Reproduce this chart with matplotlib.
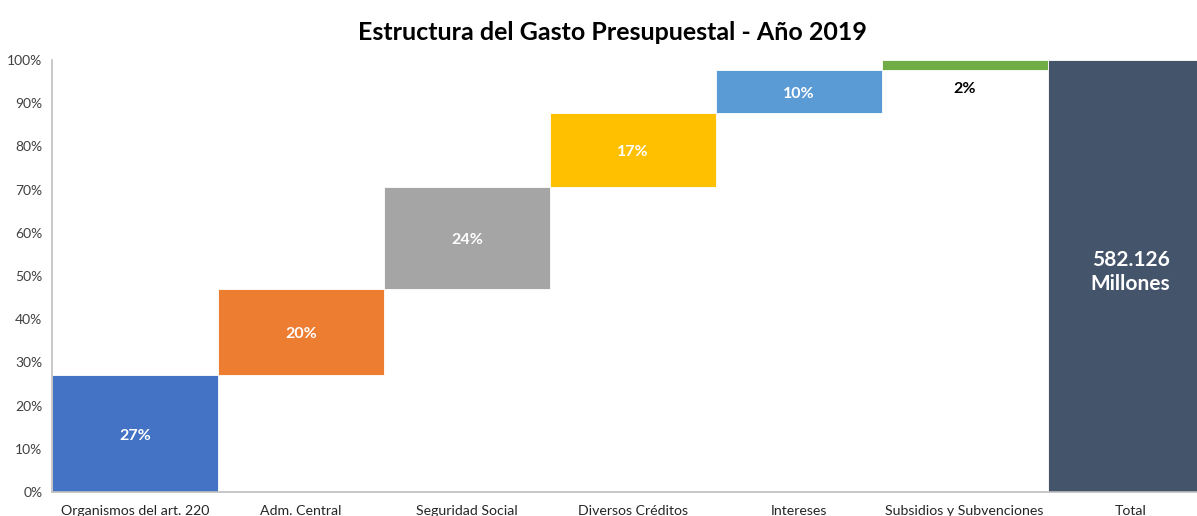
import matplotlib.pyplot as plt
import numpy as np

plt.rcParams['font.family'] = ['Lato', 'DejaVu Sans']

# datos (porcentaje del gasto)
categorias = ['Organismos del art. 220', 'Adm. Central', 'Seguridad Social',
              'Diversos Créditos', 'Intereses', 'Subsidios y Subvenciones', 'Total']
valores = [27.1, 19.9, 23.6, 17.1, 10.0, 2.3]
etiquetas = ['27%', '20%', '24%', '17%', '10%', '2%']
total = 100
etiqueta_total = '582.126\nMillones'
colores = ['#4472C4', '#ED7D31', '#A5A5A5', '#FFC000', '#5B9BD5', '#70AD47']
color_total = '#44546A'

fig = plt.figure(figsize=(11.97, 5.16), dpi=100)
ax = fig.add_axes([52 / 1197, 24 / 516, 1 - 52 / 1197, 432 / 516])

x = np.arange(len(categorias))
bases = np.concatenate([[0], np.cumsum(valores)[:-1]])

barras = ax.bar(x[:-1], valores, bottom=bases, width=1.0, color=colores,
                edgecolor='white', linewidth=0.6)
ax.bar(x[-1], total, width=1.0, color=color_total, edgecolor='white', linewidth=0.6)

# etiquetas dentro de las barras
for i in range(len(valores)):
    if valores[i] < 5:
        # la barra chica lleva la etiqueta abajo, en negro
        ax.annotate(etiquetas[i], (x[i], bases[i]), xytext=(0, -13.5),
                    textcoords='offset points', ha='center', va='center',
                    fontsize=11.5, fontweight='bold', color='black')
    else:
        ax.text(x[i], bases[i] + valores[i] / 2 - 0.5, etiquetas[i], ha='center',
                va='center', fontsize=11.5, fontweight='bold', color='white')

ax.text(x[-1], total * 0.51, etiqueta_total, ha='center', va='center',
        fontsize=15, fontweight='bold', color='white', linespacing=1.25)

ax.set_xlim(-0.5, 6.4)
ax.set_ylim(0, 100)
ax.set_xticks(x)
ax.set_xticklabels(categorias, fontsize=10.2, color='#262626')
ax.set_yticks(np.arange(0, 101, 10))
ax.set_yticklabels([str(v) + '%' for v in range(0, 101, 10)], fontsize=10, color='#404040')
ax.tick_params(axis='x', length=0, pad=9.5)
ax.tick_params(axis='y', length=0, pad=7)

for lado in ['top', 'right']:
    ax.spines[lado].set_visible(False)
ax.spines['left'].set_color('#BFBFBF')
ax.spines['bottom'].set_color('#BFBFBF')
ax.spines['left'].set_linewidth(1.2)
ax.spines['bottom'].set_linewidth(1.2)

fig.text(612 / 1197, 1 - 32 / 516, 'Estructura del Gasto Presupuestal - Año 2019',
         ha='center', va='center', fontsize=18, fontweight='bold', color='black')

fig.savefig('out.png', dpi=100)
